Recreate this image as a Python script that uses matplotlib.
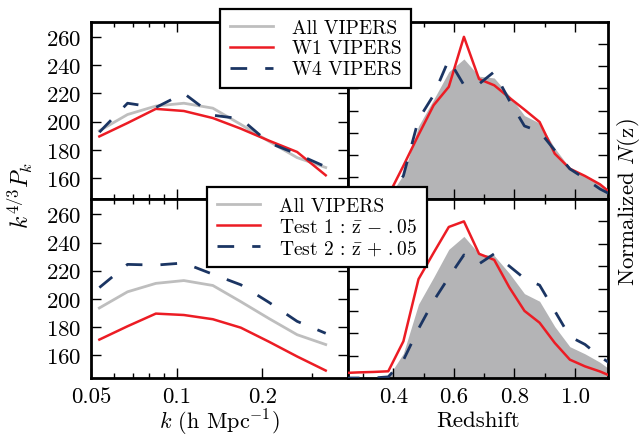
import matplotlib
matplotlib.use("Agg")
import matplotlib.pyplot as plt
from matplotlib.ticker import FixedLocator, FixedFormatter, NullFormatter

plt.rcParams.update({
    "font.family": "serif",
    "font.serif": ["cmr10"],
    "mathtext.fontset": "cm",
    "axes.formatter.use_mathtext": True,
    "axes.unicode_minus": False,
})

# ---- power spectrum (left column) ----
k = [0.0535, 0.0672, 0.0845, 0.106, 0.134, 0.168, 0.211, 0.265, 0.334]
pk_all = [193.5, 205, 211, 213, 209.5, 198, 186, 174.5, 167.5]
pk_w1 = [189.5, 199, 209, 207.5, 202.5, 195, 186.5, 178.5, 162]
pk_w4 = [192.5, 213, 210, 220, 204.5, 202, 185, 177, 168]
pk_test1 = [171, 180.5, 189.5, 188.5, 185.5, 179.5, 169.5, 159, 149]
pk_test2 = [208, 224.5, 224, 225.5, 217.5, 210, 197.5, 184, 175.5]

# ---- redshift distributions (right column) ----
z = [0.233, 0.283, 0.333, 0.383, 0.433, 0.483, 0.533, 0.583, 0.633, 0.683,
     0.733, 0.783, 0.833, 0.883, 0.933, 0.983, 1.033, 1.083, 1.133]
nz_all = [0, 0, 0, 0.05, 1.1, 3.3, 4.5, 5.75, 6.33, 5.55,
          5.47, 4.68, 3.77, 3.43, 2.3, 1.4, 1.08, 0.7, 0.2]
nz_w1 = [0, 0, 0.05, 0.15, 1.5, 2.9, 4.24, 5.07, 7.33, 5.42,
         5.14, 4.58, 4.04, 3.48, 2.05, 1.37, 1.04, 0.66, 0.1]
nz_w4 = [0, 0, 0, 0.1, 1.05, 3.6, 4.7, 6.3, 5.15, 5.2,
         5.75, 4.45, 3.3, 3.05, 2.2, 1.36, 0.92, 0.45, 0.1]
nz_test1 = [0.22, 0.25, 0.27, 0.3, 1.64, 4.42, 5.6, 6.75, 7.0, 5.55,
            5.28, 4.05, 3.0, 2.47, 1.57, 0.82, 0.52, 0.29, 0.0]
nz_test2 = [0, 0, 0, 0.05, 0.8, 2.2, 3.45, 4.5, 5.5, 5.1,
            5.55, 5.0, 4.45, 4.15, 3.0, 1.85, 1.5, 0.95, 0.5]

k_ticks = [0.05, 0.1, 0.2]
k_tick_labels = ["0.05", "0.1", "0.2"]
k_minor = [0.06, 0.07, 0.08, 0.09, 0.3, 0.4]
pk_ticks = [160, 180, 200, 220, 240, 260]
z_ticks = [0.4, 0.6, 0.8, 1.0]
z_tick_labels = ["0.4", "0.6", "0.8", "1.0"]
z_minor = [0.3, 0.5, 0.7, 0.9]
nz_ticks = [0, 1, 2, 3, 4, 5, 6, 7, 8]

GRAY = "#bebebe"
FILL = "#b4b4b6"
RED = "#ec1c24"
NAVY = "#1b3563"
DASH = (0, (6, 6.5))
LW = 1.8

W, H = 642, 439
fig = plt.figure(figsize=(W / 100, H / 100), dpi=100)


def rect(x0, y0, x1, y1):
    return [x0 / W, 1 - y1 / H, (x1 - x0) / W, (y1 - y0) / H]


ax_tl = fig.add_axes(rect(91, 23, 348, 200))
ax_tr = fig.add_axes(rect(348, 23, 607.7, 200))
ax_bl = fig.add_axes(rect(91, 200, 348, 379))
ax_br = fig.add_axes(rect(348, 200, 607.7, 379))

for ax in (ax_tl, ax_tr, ax_bl, ax_br):
    for sp in ax.spines.values():
        sp.set_linewidth(2.0)
    ax.tick_params(which="both", direction="in", top=True, right=True,
                   width=1.0, labelsize=16.5)
    ax.tick_params(which="major", length=7)
    ax.tick_params(which="minor", length=3.5)
    ax.tick_params(axis="x", pad=6)
    ax.tick_params(axis="y", pad=7)

# power spectrum panels
for ax, series in ((ax_tl, (pk_all, pk_w1, pk_w4)),
                   (ax_bl, (pk_all, pk_test1, pk_test2))):
    ax.set_xscale("log")
    a, b, c = series
    ax.plot(k, a, color=GRAY, lw=LW + 0.2, zorder=2)
    ax.plot(k, b, color=RED, lw=LW, zorder=3)
    ax.plot(k, c, color=NAVY, lw=LW + 0.2, ls=DASH, zorder=4)
    ax.set_xlim(0.05, 0.4)
    ax.xaxis.set_major_locator(FixedLocator(k_ticks))
    ax.xaxis.set_major_formatter(FixedFormatter(k_tick_labels))
    ax.xaxis.set_minor_locator(FixedLocator(k_minor))
    ax.xaxis.set_minor_formatter(NullFormatter())
    ax.yaxis.set_major_locator(FixedLocator(pk_ticks))

ax_tl.set_ylim(145.2, 270.5)
ax_bl.set_ylim(143.7, 271)
ax_tl.tick_params(axis="x", labelbottom=False)

# redshift panels
for ax, series in ((ax_tr, (nz_all, nz_w1, nz_w4)),
                   (ax_br, (nz_all, nz_test1, nz_test2))):
    a, b, c = series
    ax.fill_between(z, 0, a, color=FILL, lw=0, zorder=1)
    ax.plot(z, b, color=RED, lw=LW, zorder=3)
    ax.plot(z, c, color=NAVY, lw=LW + 0.2, ls=DASH, zorder=4)
    ax.set_xlim(0.25, 1.108)
    ax.set_ylim(0, 8)
    ax.xaxis.set_major_locator(FixedLocator(z_ticks))
    ax.xaxis.set_major_formatter(FixedFormatter(z_tick_labels))
    ax.xaxis.set_minor_locator(FixedLocator(z_minor))
    ax.xaxis.set_minor_formatter(NullFormatter())
    ax.yaxis.set_major_locator(FixedLocator(nz_ticks))
    ax.tick_params(axis="y", labelleft=False)

ax_tr.tick_params(axis="x", labelbottom=False)

ax_bl.set_xlabel(r"$k$ (h Mpc$^{-1}$)", fontsize=16, labelpad=1)
ax_br.set_xlabel("Redshift", fontsize=16.5, labelpad=3)
fig.text(20 / W, 1 - 195 / H, r"$k^{4/3}P_k$", rotation=90,
         ha="center", va="center", fontsize=17)
fig.text(628 / W, 1 - 202 / H, r"Normalized $N$(z)", rotation=90,
         ha="center", va="center", fontsize=16.5)

top_lines = ax_tl.get_lines()
bot_lines = ax_bl.get_lines()
leg_kw = dict(loc="upper left", bbox_transform=fig.transFigure,
              borderaxespad=0, fancybox=False, framealpha=1,
              edgecolor="black", fontsize=14, handlelength=2.2,
              handletextpad=1.0, borderpad=0.5, labelspacing=0.15)
leg1 = fig.legend(top_lines, ["All VIPERS", "W1 VIPERS", "W4 VIPERS"],
                  bbox_to_anchor=(220 / W, 1 - 10 / H), **leg_kw)
leg2 = fig.legend(bot_lines,
                  ["All VIPERS",
                   r"Test 1 : $\bar{\mathrm{z}}\,-\,.05$",
                   r"Test 2 : $\bar{\mathrm{z}}\,+\,.05$"],
                  bbox_to_anchor=(207 / W, 1 - 188 / H), **leg_kw)
for lg in (leg1, leg2):
    lg.get_frame().set_linewidth(1.6)

fig.savefig("out.png", dpi=100)
